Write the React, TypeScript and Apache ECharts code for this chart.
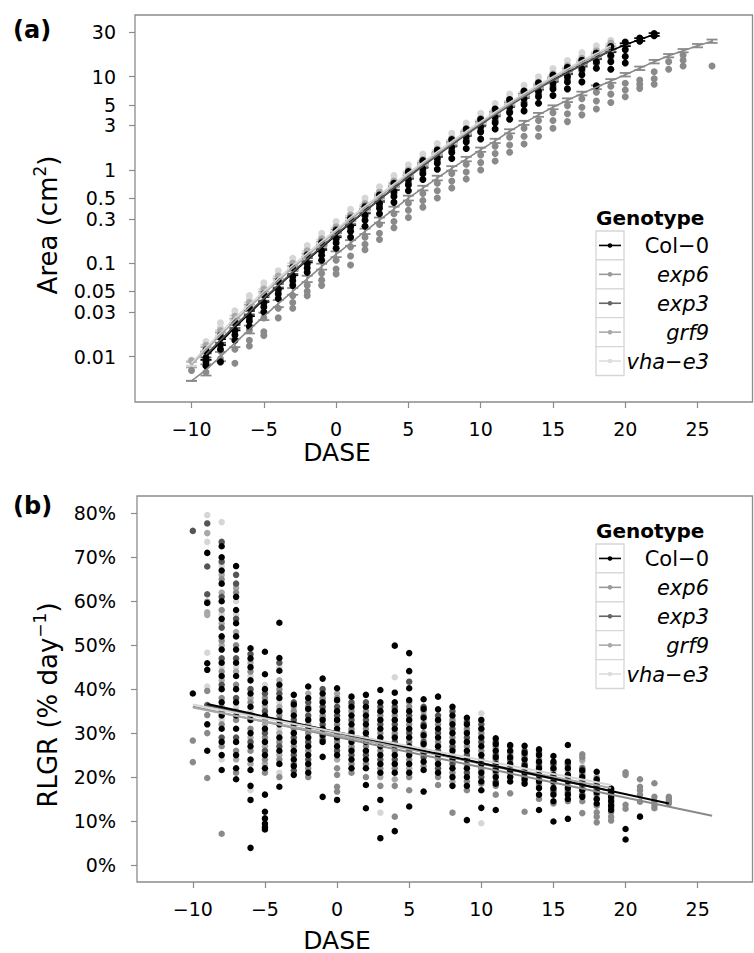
import React, { useEffect, useRef } from 'react';
import * as echarts from 'echarts';

const FONT = 'DejaVu Sans';

const genotypeNames = ['Col\u22120', 'exp6', 'exp3', 'grf9', 'vha\u2212e3'];
const genotypeColors = ['#000000', '#8a8a8a', '#555555', '#a8a8a8', '#d6d6d6'];
const legendColors = ['#000000', '#999999', '#666666', '#aaaaaa', '#dddddd'];

const dayTicks = [-10, -5, 0, 5, 10, 15, 20, 25];
const areaTickLabels = [0.01, 0.03, 0.05, 0.1, 0.3, 0.5, 1, 3, 5, 10, 30];
const rlgrTickLabels = [0, 10, 20, 30, 40, 50, 60, 70, 80];

// ---------- Panel (a): rosette area (cm2) ----------
const areaStartDay = [-9, -10, -9, -10, -10];

const areaMeanCol0 = [0.0100, 0.0143, 0.0205, 0.029, 0.041, 0.057, 0.079, 0.108, 0.147, 0.200, 0.27, 0.36, 0.48, 0.64, 0.85, 1.12, 1.46, 1.90, 2.47, 3.15, 4.05, 5.1, 6.3, 7.7, 9.3, 11.1, 13.4, 16.0, 19.0, 22.0, 25.0, 28.3];
const areaMeanExp6 = [0.0055, 0.0072, 0.0100, 0.0140, 0.0195, 0.027, 0.037, 0.050, 0.068, 0.092, 0.125, 0.165, 0.22, 0.29, 0.38, 0.50, 0.64, 0.82, 1.04, 1.31, 1.65, 2.05, 2.6, 3.2, 3.9, 4.7, 5.6, 6.6, 7.7, 9.0, 10.5, 12.3, 14.5, 16.8, 19.0, 21.5, 24.0];
const areaMeanExp3 = [0.0105, 0.0150, 0.0215, 0.030, 0.042, 0.058, 0.081, 0.111, 0.151, 0.205, 0.275, 0.365, 0.485, 0.64, 0.84, 1.10, 1.43, 1.86, 2.40, 3.05, 3.90, 4.90, 6.1, 7.5, 9.1, 11.0, 13.3, 16.0, 19.2];
const areaMeanGrf9 = [0.0082, 0.0118, 0.017, 0.024, 0.034, 0.047, 0.065, 0.089, 0.121, 0.163, 0.22, 0.295, 0.39, 0.515, 0.68, 0.89, 1.16, 1.50, 1.94, 2.50, 3.20, 4.05, 5.1, 6.3, 7.8, 9.6, 11.7, 14.1, 17.0, 20.5];
const areaMeanVha = [0.0085, 0.0125, 0.018, 0.026, 0.036, 0.050, 0.069, 0.095, 0.128, 0.172, 0.23, 0.31, 0.41, 0.54, 0.71, 0.93, 1.21, 1.57, 2.02, 2.60, 3.30, 4.20, 5.3, 6.6, 8.2, 10.0, 12.2, 14.8, 17.8, 21.5];

// standard errors, as half-widths in decades (log10 units)
const areaSeCol0 = [0.035, 0.032, 0.03, 0.028, 0.027, 0.026, 0.025, 0.024, 0.023, 0.022, 0.022, 0.021, 0.021, 0.02, 0.02, 0.02, 0.019, 0.019, 0.019, 0.018, 0.018, 0.018, 0.017, 0.017, 0.017, 0.016, 0.016, 0.016, 0.016, 0.015, 0.015, 0.015];
const areaSeExp6 = [0, 0.06, 0.05, 0.045, 0.042, 0.04, 0.038, 0.036, 0.034, 0.032, 0.031, 0.03, 0.029, 0.028, 0.027, 0.026, 0.025, 0.025, 0.024, 0.024, 0.023, 0.023, 0.022, 0.022, 0.021, 0.021, 0.02, 0.02, 0.02, 0.02, 0.019, 0.019, 0.019, 0.018, 0.018, 0.018, 0.018];
const areaSeExp3 = [0.03, 0.028, 0.026, 0.025, 0.024, 0.023, 0.022, 0.021, 0.02, 0.02, 0.02, 0.019, 0.019, 0.018, 0.018, 0.018, 0.017, 0.017, 0.017, 0.016, 0.016, 0.016, 0.015, 0.015, 0.015, 0.015, 0.014, 0.014, 0.014];
const areaSeGrf9 = [0.03, 0.03, 0.028, 0.026, 0.025, 0.024, 0.023, 0.022, 0.021, 0.02, 0.02, 0.02, 0.019, 0.019, 0.018, 0.018, 0.018, 0.017, 0.017, 0.017, 0.016, 0.016, 0.016, 0.015, 0.015, 0.015, 0.015, 0.014, 0.014, 0.014];
const areaSeVha = [0.025, 0.03, 0.028, 0.026, 0.025, 0.024, 0.023, 0.022, 0.021, 0.02, 0.02, 0.02, 0.019, 0.019, 0.018, 0.018, 0.018, 0.017, 0.017, 0.017, 0.016, 0.016, 0.016, 0.015, 0.015, 0.015, 0.015, 0.014, 0.014, 0.02];

// individual plants per day
const areaPtsCol0 = [
  [0.0115, 0.0098, 0.0088, 0.0080], [0.0160, 0.0135, 0.0120, 0.0088], [0.0230, 0.0190, 0.0170, 0.0150],
  [0.033, 0.027, 0.024, 0.021], [0.046, 0.038, 0.034, 0.030], [0.064, 0.053, 0.047, 0.042],
  [0.090, 0.073, 0.065, 0.058], [0.122, 0.100, 0.089, 0.080], [0.165, 0.137, 0.122, 0.108],
  [0.225, 0.185, 0.165, 0.145], [0.30, 0.25, 0.22, 0.19], [0.40, 0.33, 0.29, 0.25],
  [0.54, 0.44, 0.39, 0.34], [0.72, 0.59, 0.52, 0.45], [0.96, 0.79, 0.69, 0.60],
  [1.26, 1.03, 0.91, 0.79], [1.64, 1.34, 1.18, 1.02], [2.12, 1.75, 1.54, 1.33],
  [2.75, 2.27, 2.0, 1.70], [3.5, 2.9, 2.55, 2.15], [4.5, 3.7, 3.2, 2.75],
  [5.7, 4.7, 4.1, 3.5], [7.0, 5.8, 5.0, 4.3], [8.6, 7.0, 6.1, 5.2],
  [10.4, 8.5, 7.4, 6.3], [12.6, 10.1, 8.8, 7.4], [15.0, 12.2, 10.5, 8.8],
  [17.8, 14.5, 12.3, 8.0], [21.0, 17.0, 14.5, 12.0], [23.5, 19.5, 16.5, 14.0],
  [26.0, 24.0], [29.0, 27.5],
];
const areaPtsExp6 = [
  [0.0071], [0.0080, 0.0068], [0.0115, 0.0095, 0.0087], [0.0150, 0.0120, 0.0085],
  [0.0190, 0.0150, 0.0130], [0.026, 0.0185, 0.0168], [0.033, 0.026], [0.045, 0.038, 0.033],
  [0.058, 0.050, 0.045], [0.078, 0.066, 0.058], [0.108, 0.087, 0.077], [0.150, 0.120, 0.096],
  [0.19, 0.16, 0.14], [0.26, 0.21, 0.18], [0.34, 0.28, 0.24], [0.44, 0.37, 0.31],
  [0.56, 0.47, 0.40], [0.72, 0.60, 0.50], [0.92, 0.76, 0.64], [1.15, 0.95, 0.80],
  [1.45, 1.20, 1.00], [1.80, 1.50, 1.25], [2.25, 1.85, 1.55], [2.8, 2.3, 1.9],
  [3.4, 2.8, 2.3], [4.1, 3.4, 2.8], [4.9, 4.0, 3.3], [5.8, 4.7, 3.9],
  [6.8, 5.5, 4.5], [7.9, 6.5, 5.3], [8.5, 7.2, 6.1], [9.2, 8.3, 7.5],
  [11.3, 9.5, 8.3], [14.5, 12.0], [17.0, 15.0, 13.0], [], [13.0],
];
const areaPtsExp3 = [
  [0.0120, 0.0095], [0.0170, 0.0135], [0.024, 0.019], [0.034, 0.026], [0.047, 0.037],
  [0.065, 0.051], [0.091, 0.071], [0.124, 0.097], [0.170, 0.133], [0.23, 0.18],
  [0.31, 0.24], [0.41, 0.32], [0.54, 0.42], [0.72, 0.56], [0.94, 0.73],
  [1.23, 0.96], [1.60, 1.25], [2.08, 1.62], [2.70, 2.10], [3.40, 2.65],
  [4.35, 3.40], [5.5, 4.25], [6.8, 5.3], [8.4, 6.5], [10.2, 7.9],
  [12.3, 9.6], [14.9, 11.6], [17.9, 13.9], [21.0, 16.5],
];
const areaPtsGrf9 = [
  [0.0090], [0.0132, 0.0112], [0.019, 0.016], [0.027, 0.0228], [0.038, 0.032],
  [0.053, 0.045], [0.073, 0.062], [0.100, 0.085], [0.136, 0.115], [0.183, 0.155],
  [0.246, 0.209], [0.33, 0.28], [0.437, 0.37], [0.577, 0.49], [0.76, 0.646],
  [1.0, 0.845], [1.3, 1.1], [1.68, 1.43], [2.17, 1.84], [2.8, 2.38],
  [3.58, 3.04], [4.54, 3.85], [5.7, 4.85], [7.05, 6.0], [8.7, 7.4],
  [10.75, 9.1], [13.1, 11.1], [15.8, 13.4], [19.0, 16.2], [22.9, 19.5],
];
const areaPtsVha = [
  [0.0092], [0.0145, 0.0135], [0.023, 0.0205], [0.031, 0.029], [0.045, 0.041],
  [0.062, 0.056], [0.083, 0.076], [0.113, 0.104], [0.155, 0.141], [0.21, 0.19],
  [0.28, 0.255], [0.38, 0.34], [0.5, 0.455], [0.66, 0.6], [0.87, 0.79],
  [1.14, 1.03], [1.48, 1.34], [1.92, 1.74], [2.47, 2.24], [3.18, 2.88],
  [4.05, 3.66], [5.15, 4.65], [6.5, 5.9], [8.1, 7.3], [10.0, 9.1],
  [12.2, 11.1], [14.9, 13.5], [18.1, 16.4], [21.5, 19.7], [24.5],
];

// ---------- Panel (b): RLGR (% per day), days -10 .. 23 ----------
const rlgrStartDay = -10;
const rlgrCol0 = [
  [39], [71, 59.6, 45.9, 44.4, 32, 26],
  [72.5, 70, 67, 64, 60, 56, 52, 49, 46, 43, 40, 37, 34, 31, 28, 25, 21.6],
  [68, 61, 58, 55, 52, 49, 46, 43, 40, 37, 34, 31, 28, 25, 22, 19.5],
  [49.3, 47, 45, 42, 39, 36, 33, 30, 27, 24, 21.6, 18, 14.8, 3.9],
  [48.5, 43.4, 40, 37, 34, 31, 28, 25, 22, 16, 12.1, 10.6, 9.4, 8.6, 8.1],
  [55.1, 47.1, 44.2, 41, 38, 35, 32, 29, 26, 23, 17.8],
  [38.7, 36.5, 34, 32, 30, 28, 26, 24, 22.5, 20.5],
  [40.6, 38, 35.5, 33, 31, 29, 27, 25, 23, 21],
  [42.4, 39, 37, 35, 33, 31, 29.5, 28, 24.6, 15.5],
  [40.2, 37.5, 35, 33, 31, 29, 27, 25, 14.8],
  [38.3, 36, 34, 32, 30, 28, 26, 24, 22],
  [38.7, 36, 34, 32, 30, 28, 26, 24, 22, 18.2, 12.9],
  [39.8, 37, 35, 33, 31, 29, 27, 25, 23, 21, 14.8, 6.1],
  [49.9, 39.2, 37, 35, 33, 31, 29, 27, 25, 23, 21, 7.7],
  [48.2, 44.1, 40.2, 37.5, 35, 33, 31, 29, 27, 25, 23, 21, 13.3],
  [37.7, 35.5, 33.5, 31.5, 29.5, 27.5, 25.5, 23.5, 21.6, 16.7],
  [38.3, 35.4, 33, 31, 29, 27, 25, 23, 21],
  [36, 34, 32, 30, 28, 26, 24, 22, 20, 18],
  [33.5, 32, 30, 28, 26, 24, 22, 20, 18, 10.2],
  [33, 31, 29, 27, 25, 23, 21, 19, 17, 13],
  [28.8, 27.5, 26, 24.5, 23, 21.5, 20, 18.5, 12.5],
  [27.3, 26, 24.5, 23, 21.5, 20, 19],
  [27.1, 25.5, 24, 22.5, 21, 19.5, 18.5],
  [26.3, 25, 23.5, 22, 20.5, 19, 17.5, 16, 12.5],
  [24.8, 23.5, 22, 20.5, 19, 17.5, 16, 14.5, 9.9],
  [27.3, 23.5, 22, 20.5, 19, 17.5, 16, 15, 10.5],
  [21.5, 20, 18.5, 17, 15.5],
  [21.2, 19.5, 18, 16.5, 15, 14],
  [17.4, 16.5, 15.5, 14.5, 13.5, 12.5],
  [8.2, 5.8], [11], [], [],
];
const rlgrExp6 = [
  [28.3, 23.4], [59.9, 39.6, 34.1, 30, 19.8], [65, 58, 51, 44, 38, 32, 27, 7.1],
  [62, 50, 41, 33, 26, 21], [44, 37, 31, 26], [38, 33, 29, 24, 21], [40, 34, 28, 24, 20],
  [35, 31, 27, 23], [36, 30, 26, 22, 20], [38, 34, 30],
  [38, 32, 28, 22, 20.5, 17.8, 16.7], [35, 31, 27, 23, 21], [35, 31, 27, 23, 20],
  [34, 30, 26, 22, 18], [34, 30, 26, 22, 18, 11], [36, 32, 28, 24, 20, 17],
  [34, 30, 26, 22.5], [32, 28, 24, 20, 18.2], [33, 29, 25, 21, 11.9], [31, 27, 23, 19, 17],
  [30, 26, 22, 18.5], [27, 24, 21, 18, 16], [25.5, 22.5, 20, 16.3], [25, 22, 19, 12.1],
  [24, 21, 18, 15], [22, 19, 16.5, 14], [22.5, 19.5, 17, 14.5],
  [25.2, 24.5, 20.5, 17.5, 14.5, 11.8], [18.5, 16, 13.5, 12, 11, 9.7], [16, 14, 12, 11, 10.1],
  [21.1, 20.5, 13.7, 12.8], [19.5, 17.8, 17, 16, 14.4], [18.6, 15.5, 14.5, 13.5, 12.9],
  [15.5, 15, 14.5, 14],
];
const rlgrExp3 = [
  [76], [77.7, 67.9, 61.6, 36.4], [73.5, 69, 61, 54, 47, 41, 35, 29], [66, 64, 56, 47, 38, 29],
  [48, 40, 34, 28], [39, 35, 30, 26], [46, 39, 33, 27], [37, 33, 29, 25, 21.5],
  [37, 34, 28, 24], [40, 36, 32, 28.5], [36, 34, 30, 26], [37, 33, 29, 25],
  [37, 33, 29, 25], [36, 32, 28, 24], [36, 32, 28, 24], [41.7, 34, 30, 26],
  [36, 32, 28, 24.5], [34, 30, 26, 22], [35, 31, 27, 23], [32.5, 29, 25, 21],
  [32, 28, 24, 20], [28, 25, 22, 19], [27, 24, 21], [26, 23, 20],
  [25.5, 22.5, 19.5], [23, 20, 17], [23, 20, 16.5], [22, 19, 16],
  [19, 17, 15], [17, 15, 13], [], [], [], [],
];
const rlgrGrf9 = [
  [], [75.5, 57.5, 56.9], [66, 62, 55, 50, 42, 36], [63, 53, 44, 35, 24],
  [46, 38, 29, 23], [36, 32, 27, 23], [42, 36, 30, 25], [36, 30, 26],
  [39, 32, 27], [37.5, 33.5, 29], [39, 33, 28.5, 24], [36.5, 30.5, 26.5],
  [36, 30, 26], [35, 29, 20], [35.5, 29.5, 19.5], [37, 31, 22],
  [35, 29], [33, 27], [32.5, 26.5, 19], [30.5, 24.5],
  [31, 25, 21.5], [26.5, 20.5], [25, 22], [24.5, 21.5],
  [23, 20], [21.5, 18.5], [21.5, 18], [23.8, 21, 18],
  [20, 17.5], [16.5, 13.8], [], [], [], [],
];
const rlgrVha = [
  [], [79.6, 73.5, 48.3, 40.6], [78, 68, 57, 45, 33, 24], [60, 57, 45, 36],
  [43, 35, 17], [41, 31], [45, 37, 31, 21], [34.5, 28.5],
  [35, 29], [36, 31.5], [37, 30, 26.5], [35.5, 29.5],
  [34.5, 28.5], [33, 27, 11.9], [42.7, 33, 27], [35, 29],
  [33, 27], [31, 25.5], [30, 24.5], [33, 28, 22.5],
  [34.5, 29.5, 9.5], [25.5, 23.5], [26, 23.5], [24, 20.5],
  [24.5, 18.5], [22.7, 19.5], [21, 17], [22.5, 19.5],
  [18.5, 16.5], [15.8, 14], [], [], [], [],
];

// linear fits (start/end day and value, %)
const regDayStart = [-9, -10, -9, -10, -10];
const regValStart = [36.6, 36.0, 36.3, 35.8, 36.5];
const regDayEnd = [23, 26, 19, 19, 19];
const regValEnd = [14.0, 11.2, 16.8, 17.5, 18.2];

const areaMeans = [areaMeanCol0, areaMeanExp6, areaMeanExp3, areaMeanGrf9, areaMeanVha];
const areaSes = [areaSeCol0, areaSeExp6, areaSeExp3, areaSeGrf9, areaSeVha];
const areaPts = [areaPtsCol0, areaPtsExp6, areaPtsExp3, areaPtsGrf9, areaPtsVha];
const rlgrPts = [rlgrCol0, rlgrExp6, rlgrExp3, rlgrGrf9, rlgrVha];

const GRAY = '#8c8c8c';
const fmtDay = (v: number) => (v < 0 ? '\u2212' + Math.abs(v) : String(v));
const lg = (v: number) => Math.log10(v);

function xAxis(gridIndex: number, min: number, max: number) {
  return {
    type: 'value', gridIndex, min, max, position: 'bottom',
    axisLine: { show: false, onZero: false },
    axisTick: { show: true, length: 6, lineStyle: { color: GRAY, width: 1.2 }, customValues: dayTicks },
    axisLabel: { customValues: dayTicks, formatter: fmtDay, color: '#000', fontSize: 19, fontFamily: FONT, margin: 17 },
    splitLine: { show: false },
  };
}

function txt(x: number, y: number, text: string, size: number, opts: any = {}) {
  return {
    type: 'text', x, y, rotation: opts.rotation || 0, z: 10,
    style: {
      text, fill: '#000', fontFamily: FONT, fontSize: size,
      fontWeight: opts.bold ? 'bold' : 'normal', fontStyle: opts.italic ? 'italic' : 'normal',
      align: opts.align || 'left', verticalAlign: 'middle',
      rich: opts.rich, lineHeight: opts.lineHeight,
    },
  };
}

function legend(titleY: number, boxTop: number) {
  const els: any[] = [txt(596, titleY, 'Genotype', 20, { bold: true })];
  const h = 28.9;
  for (let i = 0; i < 5; i++) {
    const top = boxTop + i * h;
    const cy = top + h / 2;
    els.push({ type: 'rect', z: 10, shape: { x: 596, y: top, width: 28, height: h }, style: { fill: '#fff', stroke: '#d6d6d6', lineWidth: 1.3 } });
    els.push({ type: 'line', z: 11, shape: { x1: 599, y1: cy, x2: 621, y2: cy }, style: { stroke: legendColors[i], lineWidth: 1.6 } });
    els.push({ type: 'circle', z: 12, shape: { cx: 610, cy, r: 2.3 }, style: { fill: legendColors[i] } });
    els.push(txt(709, cy + 1, genotypeNames[i], 21, { align: 'right', italic: i > 0 }));
  }
  return els;
}

function buildOption() {
  const series: any[] = [];
  // panel (a) points
  for (const g of [1, 4, 3, 2, 0]) {
    const data: number[][] = [];
    areaPts[g].forEach((vals, i) => vals.forEach((v) => data.push([areaStartDay[g] + i, lg(v)])));
    series.push({ type: 'scatter', xAxisIndex: 0, yAxisIndex: 0, data, symbolSize: 7, itemStyle: { color: genotypeColors[g], opacity: 1 }, silent: true });
  }
  // panel (a) mean lines
  for (const g of [1, 0, 2, 3, 4]) {
    series.push({
      type: 'line', xAxisIndex: 0, yAxisIndex: 0, symbol: 'none', silent: true,
      data: areaMeans[g].map((m, i) => [areaStartDay[g] + i, lg(m)]),
      lineStyle: { color: genotypeColors[g], width: 1.6 },
    });
  }
  // panel (a) error bars
  for (const g of [1, 0, 2, 3, 4]) {
    const color = genotypeColors[g];
    series.push({
      type: 'custom', xAxisIndex: 0, yAxisIndex: 0, silent: true,
      data: areaMeans[g].map((m, i) => [areaStartDay[g] + i, lg(m) - areaSes[g][i], lg(m) + areaSes[g][i]]),
      encode: { x: 0, y: [1, 2] },
      renderItem: (params: any, api: any) => {
        const x = api.value(0);
        const lo = api.coord([x, api.value(1)]);
        const hi = api.coord([x, api.value(2)]);
        const hw = 5.5;
        const style = { stroke: color, lineWidth: 1.8 };
        return {
          type: 'group',
          children: [
            { type: 'line', shape: { x1: lo[0], y1: lo[1], x2: hi[0], y2: hi[1] }, style },
            { type: 'line', shape: { x1: lo[0] - hw, y1: lo[1], x2: lo[0] + hw, y2: lo[1] }, style },
            { type: 'line', shape: { x1: hi[0] - hw, y1: hi[1], x2: hi[0] + hw, y2: hi[1] }, style },
          ],
        };
      },
    });
  }
  // panel (b) points
  for (const g of [4, 3, 1, 2, 0]) {
    const data: number[][] = [];
    rlgrPts[g].forEach((vals, i) => vals.forEach((v) => data.push([rlgrStartDay + i, v])));
    series.push({ type: 'scatter', xAxisIndex: 1, yAxisIndex: 1, data, symbolSize: 6.5, itemStyle: { color: genotypeColors[g], opacity: 1 }, silent: true });
  }
  // panel (b) fits
  for (const g of [1, 2, 3, 0, 4]) {
    series.push({
      type: 'line', xAxisIndex: 1, yAxisIndex: 1, symbol: 'none', silent: true,
      data: [[regDayStart[g], regValStart[g]], [regDayEnd[g], regValEnd[g]]],
      lineStyle: { color: genotypeColors[g], width: 2 },
    });
  }

  const areaLog = areaTickLabels.map(lg);
  const supRich = { sup: { fontSize: 17, fontFamily: FONT, verticalAlign: 'top', lineHeight: 17 } };
  const graphic: any[] = [
    txt(13, 30, '(a)', 24, { bold: true }),
    txt(13, 506, '(b)', 24, { bold: true }),
    txt(337, 452, 'DASE', 25, { align: 'center' }),
    txt(337, 940, 'DASE', 25, { align: 'center' }),
    txt(48, 225, 'Area (cm{sup|2})', 26, { align: 'center', rotation: Math.PI / 2, lineHeight: 34, rich: supRich }),
    txt(48, 705, 'RLGR (% day{sup|\u22121})', 26, { align: 'center', rotation: Math.PI / 2, lineHeight: 34, rich: supRich }),
    ...legend(217.5, 231),
    ...legend(531, 544),
  ];

  return {
    animation: false,
    backgroundColor: '#ffffff',
    textStyle: { fontFamily: FONT },
    grid: [
      { left: 135, top: 15, width: 617.5, height: 387, show: true, borderColor: GRAY, borderWidth: 1.3, containLabel: false },
      { left: 137, top: 496, width: 615.5, height: 386, show: true, borderColor: GRAY, borderWidth: 1.3, containLabel: false },
    ],
    xAxis: [xAxis(0, -13.91, 28.8), xAxis(1, -13.87, 28.8)],
    yAxis: [
      {
        type: 'value', gridIndex: 0, min: -2.4866, max: 1.6613, position: 'left',
        axisLine: { show: false, onZero: false },
        axisTick: { show: true, length: 6, lineStyle: { color: GRAY, width: 1.2 }, customValues: areaLog },
        axisLabel: { customValues: areaLog, formatter: (v: number) => String(Number(Math.pow(10, v).toPrecision(2))), color: '#000', fontSize: 19, fontFamily: FONT, margin: 19 },
        splitLine: { show: false },
      },
      {
        type: 'value', gridIndex: 1, min: -3.87, max: 83.94, position: 'left',
        axisLine: { show: false, onZero: false },
        axisTick: { show: true, length: 6, lineStyle: { color: GRAY, width: 1.2 }, customValues: rlgrTickLabels },
        axisLabel: { customValues: rlgrTickLabels, formatter: (v: number) => v + '%', color: '#000', fontSize: 19, fontFamily: FONT, margin: 21 },
        splitLine: { show: false },
      },
    ],
    graphic,
    series,
  };
}

export default function App() {
  const ref = useRef<HTMLDivElement>(null);
  useEffect(() => {
    if (!ref.current) return;
    const chart = echarts.init(ref.current, undefined, { renderer: 'svg' });
    chart.setOption(buildOption() as any);
    return () => chart.dispose();
  }, []);
  return <div ref={ref} style={{ position: 'absolute', left: 0, top: 0, width: 754, height: 953, background: '#fff' }} />;
}
